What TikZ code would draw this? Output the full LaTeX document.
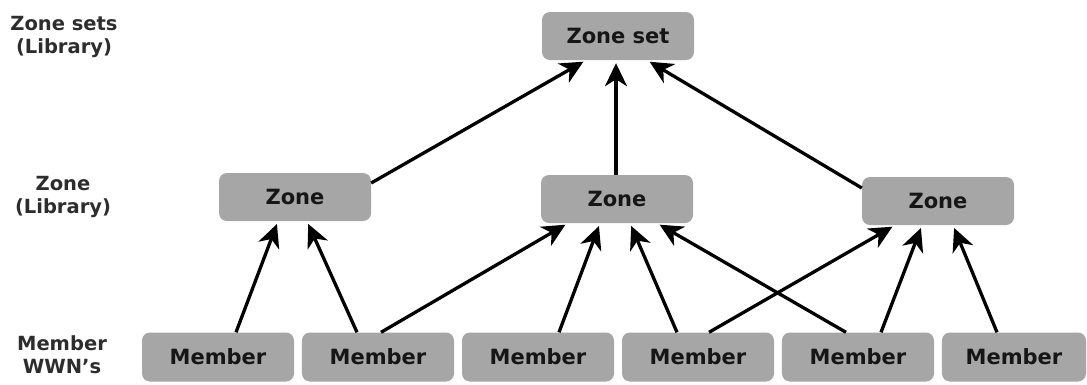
\documentclass[tikz,border=0pt]{standalone}
\usepackage{fontspec}
\setmainfont{DejaVu Sans}
\usepackage{tikz}
\usetikzlibrary{matrix,arrows.meta}

\definecolor{boxgray}{RGB}{166,166,166}
\definecolor{textgray}{RGB}{22,22,22}

\tikzset{
	box/.style={rectangle, rounded corners=8pt, fill=boxgray, text=textgray,
		minimum width=152pt, minimum height=48pt, inner sep=0pt,
		font=\fontsize{21}{25}\selectfont\bfseries},
	level/.style={align=center, text=textgray!90,
		font=\fontsize{19.5}{23}\selectfont\bfseries},
	link/.style={line width=3.3pt, -{Stealth[length=23pt,width=22pt,inset=7pt]}, shorten >=3pt}
}

\begin{document}
\begin{tikzpicture}[x=1pt,y=-1pt]

	\useasboundingbox (0,0) rectangle (1087,384);

	% level names on the left
	\node[level] (lset)  at (64,37)  {Zone sets\\(Library)};
	\node[level] (lzone) at (63,197) {Zone\\(Library)};
	\node[level] (lmem)  at (62,355) {Member\\WWN's};

	\node[box] (zs) at (618,36)  {Zone set};
	\node[box] (zl) at (295,197) {Zone};
	\node[box] (zm) at (617,199) {Zone};
	\node[box] (zr) at (938,201) {Zone};

	% member row
	\matrix (m) [matrix of nodes, column sep=8pt,
		nodes={box, minimum height=49pt}] at (614,357) {
		Member & Member & Member & Member & Member & |[minimum width=144pt]| Member \\
	};

	% zones into the zone set
	\draw[link] ([yshift=14pt]zl.east) -- ([xshift=-32pt]zs.south);
	\draw[link] ([xshift=-1pt]zm.north) -- ([xshift=-2pt]zs.south);
	\draw[link] ([yshift=13pt]zr.west) -- ([xshift=29pt]zs.south);

	% members into the zones
	\draw[link] ([xshift=18pt]m-1-1.north) -- ([xshift=-17pt]zl.south);
	\draw[link] ([xshift=-21pt]m-1-2.north) -- ([xshift=12pt]zl.south);
	\draw[link] ([xshift=3pt]m-1-2.north) -- ([xshift=-49pt]zm.south);
	\draw[link] ([xshift=21pt]m-1-3.north) -- ([xshift=-17pt]zm.south);
	\draw[link] ([xshift=-21pt]m-1-4.north) -- ([xshift=13pt]zm.south);
	\draw[link] ([xshift=-12pt]m-1-5.north) -- ([xshift=40pt]zm.south);
	\draw[link] ([xshift=11pt]m-1-4.north) -- ([xshift=-43pt]zr.south);
	\draw[link] ([xshift=23pt]m-1-5.north) -- ([xshift=-16pt]zr.south);
	\draw[link] ([xshift=-17pt]m-1-6.north) -- ([xshift=15pt]zr.south);

\end{tikzpicture}
\end{document}
